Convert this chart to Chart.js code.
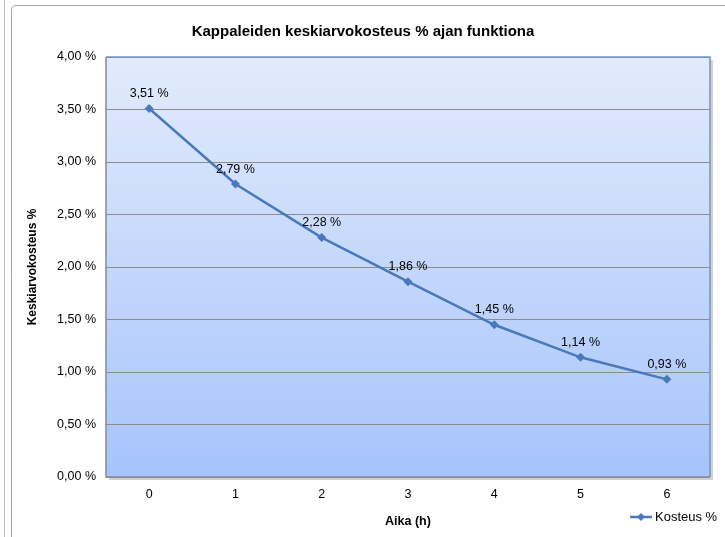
<!DOCTYPE html>
<html>
<head>
    <meta charset="UTF-8">
    <title>Kappaleiden keskiarvokosteus</title>
    <script src="https://cdn.jsdelivr.net/npm/chart.js"></script>
    <style>
        html, body { margin: 0; padding: 0; background: #ffffff; }
        #wrap { position: relative; width: 725px; height: 537px; }
    </style>
</head>
<body>
<div id="wrap">
    <canvas id="myChart" width="725" height="537"></canvas>
</div>
<script>
    // data
    const hours = ['0', '1', '2', '3', '4', '5', '6'];
    const moisture = [3.51, 2.79, 2.28, 1.86, 1.45, 1.14, 0.93];
    const yTicks = [0, 0.5, 1, 1.5, 2, 2.5, 3, 3.5, 4];
    const seriesName = 'Kosteus %';
    const chartTitle = 'Kappaleiden keskiarvokosteus % ajan funktiona';

    function pct(v) {
        return v.toFixed(2).replace('.', ',') + ' %';
    }

    const FONT = '"Liberation Sans", Arial, sans-serif';
    const LINE = '#4879ba';

    // frame, plot background, title, data labels and legend
    const decor = {
        id: 'decor',
        beforeDraw(chart) {
            const ctx = chart.ctx;
            const a = chart.chartArea;
            ctx.save();
            // outer frame lines
            ctx.strokeStyle = '#bdbdbd';
            ctx.lineWidth = 1;
            ctx.beginPath();
            ctx.moveTo(4.5, 0); ctx.lineTo(4.5, 537);
            ctx.stroke();
            ctx.strokeStyle = '#a6a6a6';
            ctx.beginPath();
            ctx.moveTo(11.5, 537);
            ctx.lineTo(11.5, 10);
            ctx.quadraticCurveTo(11.5, 5.5, 16, 5.5);
            ctx.lineTo(725, 5.5);
            ctx.stroke();
            // plot shadow
            ctx.fillStyle = 'rgba(0,0,0,0.18)';
            ctx.fillRect(a.left + 3, a.top + 3, a.right - a.left, a.bottom - a.top);
            // gradient background
            const g = ctx.createLinearGradient(0, a.top, 0, a.bottom);
            g.addColorStop(0, '#e2ebfc');
            g.addColorStop(1, '#a6c4fb');
            ctx.fillStyle = g;
            ctx.fillRect(a.left, a.top, a.right - a.left, a.bottom - a.top);
            ctx.restore();
        },
        afterDraw(chart) {
            const ctx = chart.ctx;
            const a = chart.chartArea;
            ctx.save();
            // plot border
            ctx.strokeStyle = '#6f95c8';
            ctx.lineWidth = 1.5;
            ctx.beginPath();
            ctx.moveTo(a.left, a.top); ctx.lineTo(a.right, a.top); ctx.lineTo(a.right, a.bottom);
            ctx.stroke();
            ctx.strokeStyle = '#8a8a8a';
            ctx.beginPath();
            ctx.moveTo(a.left, a.top); ctx.lineTo(a.left, a.bottom); ctx.lineTo(a.right, a.bottom);
            ctx.stroke();

            // title
            ctx.fillStyle = '#000';
            ctx.font = 'bold 15px ' + FONT;
            ctx.textAlign = 'center';
            ctx.textBaseline = 'middle';
            ctx.fillText(chartTitle, 363, 32);

            // data labels
            ctx.font = '12.5px ' + FONT;
            const meta = chart.getDatasetMeta(0);
            meta.data.forEach((pt, i) => {
                ctx.fillText(pct(moisture[i]), pt.x, pt.y - 15);
            });

            // legend
            const lx = 630, ly = 517;
            ctx.strokeStyle = LINE;
            ctx.lineWidth = 2.5;
            ctx.beginPath();
            ctx.moveTo(lx, ly); ctx.lineTo(lx + 22, ly);
            ctx.stroke();
            ctx.fillStyle = LINE;
            ctx.beginPath();
            ctx.moveTo(lx + 11, ly - 4); ctx.lineTo(lx + 15, ly);
            ctx.lineTo(lx + 11, ly + 4); ctx.lineTo(lx + 7, ly);
            ctx.closePath();
            ctx.fill();
            ctx.fillStyle = '#000';
            ctx.font = '13px ' + FONT;
            ctx.textAlign = 'left';
            ctx.fillText(seriesName, lx + 25, ly);
            ctx.restore();
        }
    };

    const ctx = document.getElementById('myChart').getContext('2d');
    const myChart = new Chart(ctx, {
        type: 'line',
        data: {
            labels: hours,
            datasets: [{
                label: seriesName,
                data: moisture,
                borderColor: LINE,
                backgroundColor: LINE,
                borderWidth: 2.5,
                pointStyle: 'rectRot',
                pointRadius: 4.5,
                pointBorderWidth: 0,
                tension: 0
            }]
        },
        options: {
            responsive: false,
            animation: false,
            layout: { padding: { top: 57, right: 15, left: 0, bottom: 0 } },
            plugins: {
                legend: { display: false },
                tooltip: { enabled: false },
                title: { display: false }
            },
            scales: {
                x: {
                    type: 'category',
                    offset: true,
                    grid: { display: false, drawTicks: false },
                    border: { display: false },
                    ticks: { color: '#000', padding: 10, font: { family: FONT, size: 12.5 } },
                    title: {
                        display: true, text: 'Aika (h)', color: '#000',
                        font: { family: FONT, size: 12.5, weight: 'bold' },
                        padding: { bottom: 8 }
                    },
                    afterFit(s) { s.height = 60; }
                },
                y: {
                    min: 0,
                    max: 4,
                    afterBuildTicks(s) { s.ticks = yTicks.map(v => ({ value: v })); },
                    grid: { color: '#8c8c8c', lineWidth: 1, drawTicks: false },
                    border: { display: false },
                    ticks: {
                        color: '#000', padding: 10,
                        font: { family: FONT, size: 12.5 },
                        callback: (v) => pct(v)
                    },
                    title: {
                        display: true, text: 'Keskiarvokosteus %', color: '#000',
                        font: { family: FONT, size: 12, weight: 'bold' },
                        padding: { top: 25 }
                    },
                    afterFit(s) { s.width = 106; }
                }
            }
        },
        plugins: [decor]
    });
</script>
</body>
</html>
